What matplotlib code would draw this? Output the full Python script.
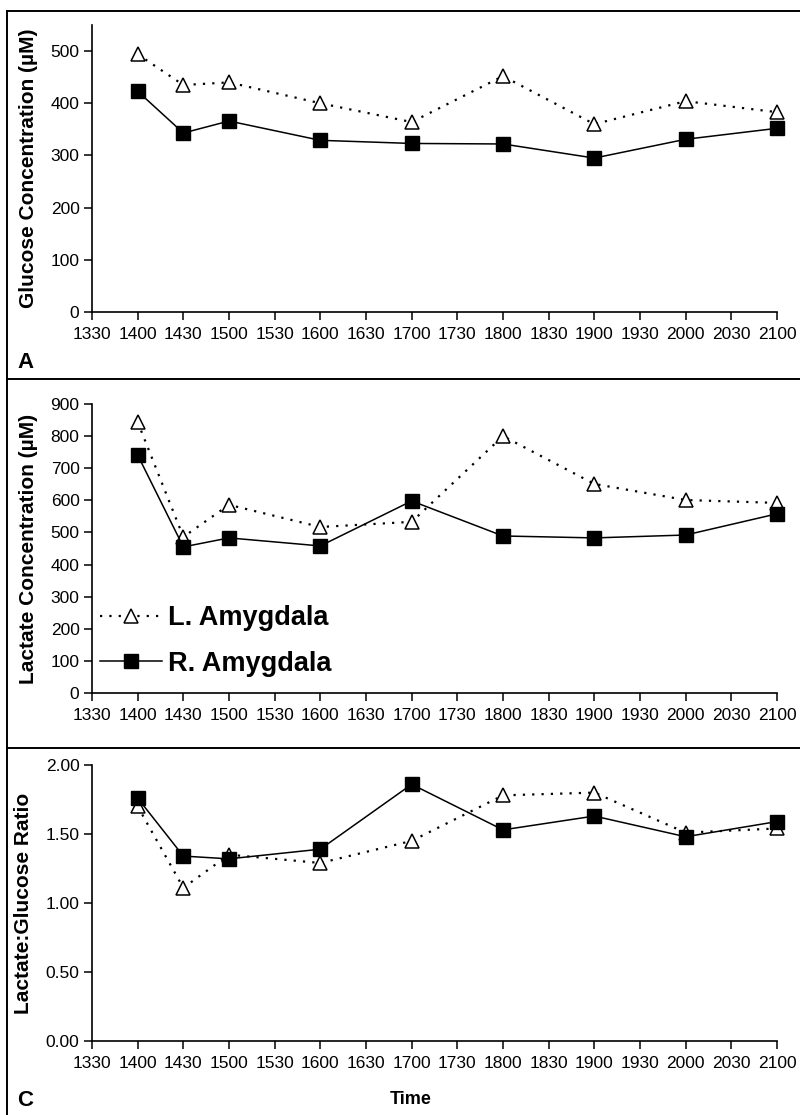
import numpy as np
import matplotlib
matplotlib.use("agg")
import matplotlib.pyplot as plt
from matplotlib.ticker import FormatStrFormatter

plt.rcParams['font.family'] = ['Liberation Sans', 'DejaVu Sans']

# time of sample, in hours
hours = [14.0, 14.5, 15.0, 16.0, 17.0, 18.0, 19.0, 20.0, 21.0]
tick_hours = np.arange(13.5, 21.01, 0.5)
tick_labels = ["%d%02d" % (int(h), int(round((h % 1) * 60))) for h in tick_hours]

glucose_L = [494, 435, 440, 400, 364, 452, 360, 404, 383]
glucose_R = [423, 343, 366, 329, 323, 322, 295, 331, 352]
lactate_L = [844, 486, 586, 517, 533, 800, 651, 601, 592]
lactate_R = [741, 455, 483, 458, 598, 489, 483, 492, 558]
ratio_L = [1.70, 1.11, 1.35, 1.29, 1.45, 1.78, 1.80, 1.51, 1.54]
ratio_R = [1.76, 1.34, 1.32, 1.39, 1.86, 1.53, 1.63, 1.48, 1.59]

W, H = 800, 1115
fig = plt.figure(figsize=(W / 100, H / 100), dpi=100)

def px_axes(x0, x1, ytop, ybot):
    return fig.add_axes([x0 / W, 1 - ybot / H, (x1 - x0) / W, (ybot - ytop) / H])

panels = [
    (px_axes(92, 777, 25, 312), glucose_L, glucose_R, (0, 550), np.arange(0, 501, 100),
     "Glucose Concentration (µM)", "%d"),
    (px_axes(92, 777, 404, 693), lactate_L, lactate_R, (0, 900), np.arange(0, 901, 100),
     "Lactate Concentration (µM)", "%d"),
    (px_axes(92, 777, 765, 1041), ratio_L, ratio_R, (0, 2.0), np.arange(0, 2.01, 0.5),
     "Lactate:Glucose Ratio", "%.2f"),
]

for ax, yl, yr, ylim, yticks, ylabel, fmt in panels:
    ax.plot(hours, yl, color="black", ls=(0, (1, 3.2)), lw=1.6, marker="^", ms=10,
            mfc="white", mec="black", mew=1.1, label="L. Amygdala", clip_on=False)
    ax.plot(hours, yr, color="black", ls="-", lw=1.1, marker="s", ms=10,
            mfc="black", mec="black", label="R. Amygdala", clip_on=False)
    ax.set_xlim(13.5, 21.0)
    ax.set_ylim(*ylim)
    ax.set_xticks(tick_hours)
    ax.set_xticklabels(tick_labels)
    ax.set_yticks(yticks)
    ax.yaxis.set_major_formatter(FormatStrFormatter(fmt))
    ax.spines["top"].set_visible(False)
    ax.spines["right"].set_visible(False)
    ax.spines["left"].set_linewidth(1.2)
    ax.spines["bottom"].set_linewidth(1.2)
    ax.tick_params(direction="out", length=6, width=1.1, labelsize=12.5, pad=3)
    ax.tick_params(axis="x", pad=5)
    ax.set_ylabel(ylabel, fontsize=15, fontweight="bold", labelpad=9)
    ax.patch.set_alpha(0)

# legend inside the lactate panel
leg = panels[1][0].legend(loc="lower left", bbox_to_anchor=(-0.012, 0.0), frameon=False,
                          prop={"size": 19.5, "weight": "bold"}, handlelength=2.3,
                          handletextpad=0.2, labelspacing=0.72, borderaxespad=0.2)

# panel frames
frame_kw = dict(color="black", lw=1.4, transform=fig.transFigure, clip_on=False)
fig.add_artist(plt.Line2D([7 / W, 7 / W], [0, 1 - 11 / H], **frame_kw))
for yy in [11, 379, 748]:
    fig.add_artist(plt.Line2D([7 / W, 1], [1 - yy / H, 1 - yy / H], **frame_kw))

fig.text(17 / W, 1 - 362 / H, "A", fontsize=16, fontweight="bold", va="center")
fig.text(17 / W, 1 - 1100 / H, "C", fontsize=16, fontweight="bold", va="center")
fig.text(411 / W, 1 - 1100 / H, "Time", fontsize=13, fontweight="bold", va="center", ha="center")

fig.savefig("out.png", dpi=100)
